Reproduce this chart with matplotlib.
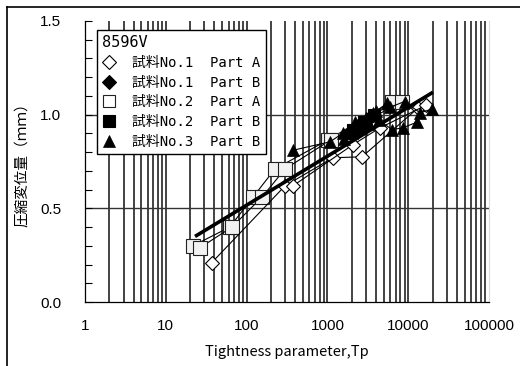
# tp_compress.py
#
# compression displacement against tightness parameter, gasket 8596V

import numpy as np
import matplotlib.pyplot as plt
from matplotlib.lines import Line2D
from matplotlib.ticker import LogLocator, MultipleLocator, FixedLocator

plt.rcParams['font.family'] = ['Noto Sans CJK JP', 'DejaVu Sans']

# sample No.1, part A (two loading runs)
no1a_x1 = [37, 299, 1170, 2680, 13200]
no1a_y1 = [0.21, 0.62, 0.77, 0.775, 1.035]
no1a_x2 = [375, 2075, 4480, 16600]
no1a_y2 = [0.62, 0.84, 0.93, 1.05]

# sample No.1, part B
no1b_x = [1900, 2500, 3300]
no1b_y = [0.90, 0.94, 0.98]

# sample No.2, part A (two loading runs)
no2a_x1 = [21.7, 62, 120, 224, 1016, 6300]
no2a_y1 = [0.30, 0.40, 0.56, 0.71, 0.865, 1.07]
no2a_x2 = [26.5, 66, 155, 299, 1100, 8400]
no2a_y2 = [0.29, 0.40, 0.56, 0.71, 0.865, 1.07]

# sample No.2, part B
no2b_x = [2100, 2800, 3800]
no2b_y = [0.92, 0.96, 1.00]

# sample No.3, part B (three loading runs)
no3b_x1 = [375, 1077, 1540, 2200, 3660, 6000, 9000, 14000, 19700]
no3b_y1 = [0.81, 0.855, 0.90, 0.96, 1.01, 1.04, 1.07, 1.01, 1.03]
no3b_x2 = [1600, 2000, 2600, 3300, 4400, 6300, 8600, 12850]
no3b_y2 = [0.87, 0.90, 0.93, 0.95, 0.97, 0.92, 0.93, 0.96]
no3b_x3 = [1800, 2400, 3000, 4000, 5500]
no3b_y3 = [0.91, 0.95, 0.98, 1.02, 1.06]

# regression line end points
fit_x = [23, 20300]
fit_y = [0.35, 1.12]

labels = ['試料No.1  Part A', '試料No.1  Part B', '試料No.2  Part A',
          '試料No.2  Part B', '試料No.3  Part B']
yticks = [0.0, 0.5, 1.0, 1.5]
ytick_labels = ['0.0', '0.5', '1.0', '1.5']
xticks = [1, 10, 100, 1000, 10000, 100000]
xtick_labels = ['1', '10', '100', '1000', '10000', '100000']

fig = plt.figure(figsize=(5.2, 3.66), dpi=100)
ax = fig.add_axes([85/520, 1 - 302/366, 404/520, 281/366])

# vertical grid at every decade subdivision
gx = []
for dec in range(5):
    for m in range(1, 10):
        gx.append(m * 10**dec)
gx.append(100000)
for v in gx[1:-1]:
    ax.axvline(v, color='#111111', lw=1.1, zorder=1)
for v in [0.5, 1.0]:
    ax.axhline(v, color='#333333', lw=1.0, zorder=1)

mk_open_d = dict(marker='D', ms=7.5, mfc='white', mec='black', mew=0.8)
mk_fill_d = dict(marker='D', ms=7.5, mfc='black', mec='black', mew=0.8)
mk_open_s = dict(marker='s', ms=10, mfc='#f2f2f2', mec='#222222', mew=0.8)
mk_fill_s = dict(marker='s', ms=9, mfc='black', mec='black', mew=0.8)
mk_tri = dict(marker='^', ms=8, mfc='black', mec='black', mew=0.5)
line_kw = dict(color='black', lw=0.8, zorder=3)

for xs, ys in [(no2a_x1, no2a_y1), (no2a_x2, no2a_y2)]:
    ax.plot(xs, ys, **line_kw, **mk_open_s)
for xs, ys in [(no1a_x1, no1a_y1), (no1a_x2, no1a_y2)]:
    ax.plot(xs, ys, **line_kw, **mk_open_d)
ax.plot(no1b_x, no1b_y, **line_kw, **mk_fill_d)
ax.plot(no2b_x, no2b_y, **line_kw, **mk_fill_s)
for xs, ys in [(no3b_x1, no3b_y1), (no3b_x2, no3b_y2), (no3b_x3, no3b_y3)]:
    ax.plot(xs, ys, **line_kw, **mk_tri)

ax.plot(fit_x, fit_y, color='black', lw=2.6, zorder=5, solid_capstyle='butt')

ax.set_xscale('log')
ax.set_xlim(1, 100000)
ax.set_ylim(0, 1.5)
ax.xaxis.set_major_locator(FixedLocator(xticks))
ax.set_xticks(xticks)
ax.set_xticklabels(xtick_labels, family='Liberation Sans', fontsize=11)
ax.xaxis.set_minor_locator(LogLocator(subs=np.arange(2, 10)))
ax.tick_params(axis='x', which='both', length=0, pad=12)
ax.set_yticks(yticks)
ax.set_yticklabels(ytick_labels, family='Liberation Sans', fontsize=11)
ax.yaxis.set_minor_locator(MultipleLocator(0.1))
ax.tick_params(axis='y', which='both', direction='in', length=5, width=0.8, pad=17)

ax.spines['top'].set_visible(False)
ax.spines['right'].set_color('#dddddd')
ax.spines['left'].set_linewidth(0.9)
ax.spines['bottom'].set_linewidth(0.9)

ax.set_xlabel('Tightness parameter,Tp', fontsize=10.5, labelpad=9)
fig.text(22/520, 1 - 161/366, '圧縮変位量（ｍｍ）', rotation=90,
         ha='center', va='center', fontsize=10.5)

handles = [
    Line2D([], [], ls='none', **dict(mk_open_d, ms=7)),
    Line2D([], [], ls='none', **dict(mk_fill_d, ms=7)),
    Line2D([], [], ls='none', **dict(mk_open_s, ms=8, mfc='white')),
    Line2D([], [], ls='none', **dict(mk_fill_s, ms=8)),
    Line2D([], [], ls='none', **dict(mk_tri, ms=8)),
]
leg = ax.legend(handles, labels, title='8596V', loc='upper left',
                bbox_to_anchor=(12/404, 1 - 9/281), alignment='left',
                fancybox=False, framealpha=1, edgecolor='black',
                prop={'family': ['DejaVu Sans Mono', 'Noto Sans CJK JP'], 'size': 10},
                title_fontproperties={'family': ['DejaVu Sans Mono'], 'size': 11},
                handlelength=1.0, handletextpad=1.2, labelspacing=0.42,
                borderpad=0.35, borderaxespad=0)
leg.get_frame().set_linewidth(1.0)
leg.set_zorder(10)

# outer frame lines along the top and left of the figure
fig.add_artist(Line2D([7/520, 1], [1 - 7/366, 1 - 7/366], color='black', lw=1.2))
fig.add_artist(Line2D([7/520, 7/520], [0, 1 - 7/366], color='black', lw=1.2))

fig.savefig('out.png', dpi=100)
